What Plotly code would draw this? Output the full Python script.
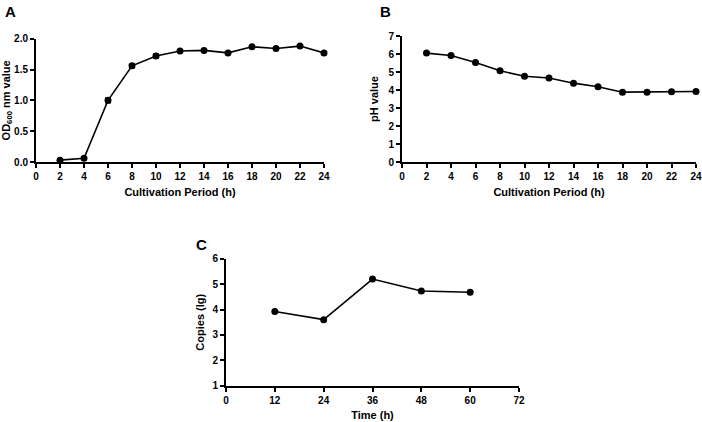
import plotly.graph_objects as go

# Panel A data
a_time = [2, 4, 6, 8, 10, 12, 14, 16, 18, 20, 22, 24]
a_od = [0.03, 0.06, 1.00, 1.56, 1.72, 1.80, 1.81, 1.77, 1.87, 1.84, 1.88, 1.77]
a_err = [0.01, 0.01, 0.04, 0.03, 0.03, 0.01, 0.01, 0.01, 0.01, 0.01, 0.01, 0.01]

# Panel B data
b_time = [2, 4, 6, 8, 10, 12, 14, 16, 18, 20, 22, 24]
b_ph = [6.05, 5.92, 5.53, 5.07, 4.76, 4.67, 4.38, 4.18, 3.88, 3.88, 3.90, 3.92]

# Panel C data
c_time = [12, 24, 36, 48, 60]
c_copies = [3.92, 3.60, 5.20, 4.73, 4.68]

W, H = 702, 422
FONT = "Liberation Sans"

def px_x(p):
    return p / W

def px_y(p):
    return 1 - p / H

fig = go.Figure()

line = dict(color="black", width=1.6)
marker = dict(color="black", size=7, symbol="circle")

fig.add_trace(go.Scatter(x=a_time, y=a_od, mode="lines+markers", line=line, marker=marker,
                         error_y=dict(type="data", array=a_err, color="black", thickness=1.5, width=3),
                         xaxis="x", yaxis="y", cliponaxis=False, showlegend=False))
fig.add_trace(go.Scatter(x=b_time, y=b_ph, mode="lines+markers", line=line, marker=marker,
                         xaxis="x2", yaxis="y2", cliponaxis=False, showlegend=False))
fig.add_trace(go.Scatter(x=c_time, y=c_copies, mode="lines+markers", line=line, marker=marker,
                         xaxis="x3", yaxis="y3", cliponaxis=False, showlegend=False))

tickfont = dict(family=FONT, size=10, color="black", weight="bold")
titlefont = dict(family=FONT, size=11, color="black", weight="bold")

def xax(domain, anchor, rng, dtick, title, standoff=7):
    return dict(domain=domain, anchor=anchor, range=rng, dtick=dtick, tick0=0,
                showline=True, linecolor="black", linewidth=2, ticks="outside",
                ticklen=4, tickwidth=1.8, tickcolor="black", showgrid=False, zeroline=False,
                tickfont=tickfont, title=dict(text=title, font=titlefont, standoff=standoff),
                fixedrange=True)

def yax(domain, anchor, rng, dtick, title, fmt=None, standoff=4):
    d = dict(domain=domain, anchor=anchor, range=rng, dtick=dtick,
             showline=True, linecolor="black", linewidth=2, ticks="outside",
             ticklen=4, tickwidth=1.8, tickcolor="black", showgrid=False, zeroline=False,
             tickfont=tickfont, title=dict(text=title, font=titlefont, standoff=standoff),
             fixedrange=True)
    if fmt:
        d["tickformat"] = fmt
    return d

fig.update_layout(
    width=W, height=H, margin=dict(l=0, r=0, t=0, b=0, autoexpand=False),
    paper_bgcolor="white", plot_bgcolor="white",
    xaxis=xax([px_x(36), px_x(324)], "y", [0, 24], 2, "Cultivation Period (h)"),
    yaxis=yax([px_y(162), px_y(38.7)], "x", [0, 2], 0.5, "OD<sub>600</sub> nm value", fmt=".1f"),
    xaxis2=xax([px_x(402), px_x(696)], "y2", [0, 24], 2, "Cultivation Period (h)"),
    yaxis2=yax([px_y(162), px_y(36)], "x2", [0, 7], 1, "pH value", standoff=8),
    xaxis3=xax([px_x(226), px_x(519)], "y3", [0, 72], 12, "Time (h)"),
    yaxis3=yax([px_y(385.7), px_y(258.7)], "x3", [1, 6], 1, "Copies (lg)", standoff=6),
    annotations=[
        dict(text="A", x=px_x(3), y=px_y(1), xref="paper", yref="paper", xanchor="left", yanchor="top",
             showarrow=False, font=dict(family=FONT, size=15, color="black", weight="bold")),
        dict(text="B", x=px_x(378), y=px_y(1), xref="paper", yref="paper", xanchor="left", yanchor="top",
             showarrow=False, font=dict(family=FONT, size=15, color="black", weight="bold")),
        dict(text="C", x=px_x(194), y=px_y(234), xref="paper", yref="paper", xanchor="left", yanchor="top",
             showarrow=False, font=dict(family=FONT, size=15, color="black", weight="bold")),
    ],
)

fig.write_html("out.html")
